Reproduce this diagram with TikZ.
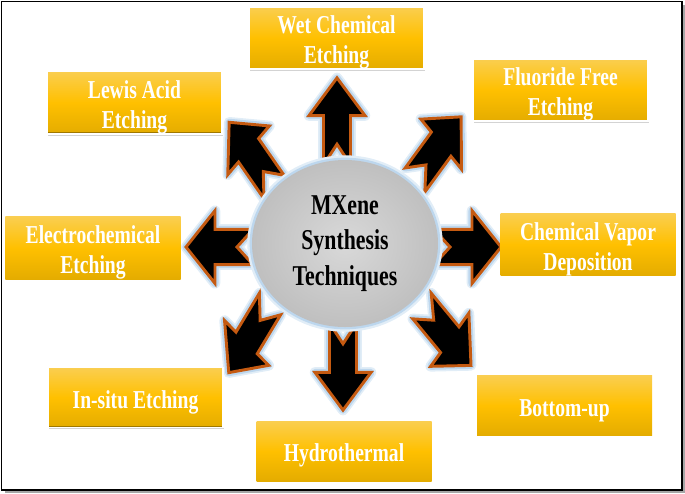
\documentclass[tikz,border=0pt]{standalone}
\usepackage{fontspec}
\usepackage{tikz}
\usepackage{xcolor}
\usetikzlibrary{shapes.geometric,shadows}

\newfontfamily\labelfont[FakeStretch=0.76]{Liberation Serif}

\definecolor{goldtop}{RGB}{250,206,80}
\definecolor{goldmid}{RGB}{255,192,0}
\definecolor{goldbot}{RGB}{228,172,0}
\definecolor{boxedge}{RGB}{160,120,0}
\definecolor{arrowedge}{RGB}{197,90,17}
\definecolor{glowblue}{RGB}{189,215,238}

% pushes a label a little lower in its box
\newcommand\toprule{\rule{0pt}{23pt}}

\tikzset{
  notch/.style={fill=black, draw=arrowedge, line width=2.5pt, line join=miter,
    preaction={draw=glowblue!45, line width=9pt, line join=round},
    preaction={draw=glowblue, line width=6pt, line join=round}},
  notcharrow/.pic={
    \draw[notch] (0,13.5) -- (38,13.5) -- (38,28) -- (67,0) -- (38,-28)
      -- (38,-13.5) -- (0,-13.5) -- (16,0) -- cycle;
  }
}

\begin{document}
\begin{tikzpicture}[x=0.03cm,y=-0.03cm]
  \useasboundingbox (0,0) rectangle (685,493);
  \tikzstyle{flatbox}=[rectangle, minimum width=5.25cm, minimum height=1.8cm, inner sep=0pt,
    top color=goldtop, bottom color=goldbot, middle color=goldmid, text=white, align=center,
    font=\labelfont\bfseries\fontsize{22}{25.5}\selectfont]
  \tikzstyle{bevelbox}=[flatbox, draw=white, line width=1.5pt,
    drop shadow={shadow xshift=1.2pt, shadow yshift=-1.5pt, opacity=0.35},
    path picture={\draw[boxedge, line width=3pt] (path picture bounding box.south west)
      -- (path picture bounding box.south east);}]
  \tikzstyle{core}=[ellipse, minimum width=5.58cm, minimum height=5.01cm, inner sep=0pt,
    inner color=black!15, outer color=black!25, align=center,
    drop shadow={shadow xshift=0pt, shadow yshift=-1.2pt, opacity=0.45},
    preaction={draw=glowblue!45, line width=8pt}, preaction={draw=glowblue, line width=4pt},
    font=\labelfont\bfseries\fontsize{24.5}{30}\selectfont]

  % frame
  \draw[black!35, line width=2pt] (684,5) -- (684,492) -- (5,492);
  \draw[line width=1.6pt] (1.5,1.5) rectangle (682,490);

  % arrows, from the tail outwards
  \pic[yscale=1.3, rotate=90] at (337,165) {notcharrow};%wet
  \pic[yscale=1.3, rotate=46.5] at (415,180) {notcharrow};%fluoride
  \pic[yscale=1.3, rotate=0] at (434,247) {notcharrow};%cvd
  \pic[yscale=1.3, rotate=-43] at (422,306) {notcharrow};%bottom-up
  \pic[yscale=1.3, rotate=-90] at (343,323) {notcharrow};%hydrothermal
  \pic[yscale=1.3, rotate=-128] at (270,304) {notcharrow};%in-situ
  \pic[yscale=1.3, rotate=180] at (253,247) {notcharrow};%electrochemical
  \pic[yscale=1.3, rotate=132] at (274,187) {notcharrow};%lewis

  \node[core] (core) at (345,243.5) {MXene\\Synthesis\\Techniques};

  \node[bevelbox] (wet) at (336.5,38) {\toprule Wet Chemical\\Etching};
  \node[bevelbox] (lewis) at (134.5,102.5) {\toprule Lewis Acid\\Etching};
  \node[bevelbox] (fluoride) at (560.5,90) {\toprule Fluoride Free\\Etching};
  \node[flatbox] (electro) at (93,248) {\toprule Electrochemical\\Etching};
  \node[flatbox] (cvd) at (588,244.5) {\toprule Chemical Vapor\\Deposition};
  \node[bevelbox] (insitu) at (135.5,397.5) {\toprule In-situ Etching};
  \node[flatbox] (hydro) at (344,451) {\toprule Hydrothermal};
  \node[flatbox] (bottomup) at (564.5,405.5) {\toprule Bottom-up};
\end{tikzpicture}
\end{document}
